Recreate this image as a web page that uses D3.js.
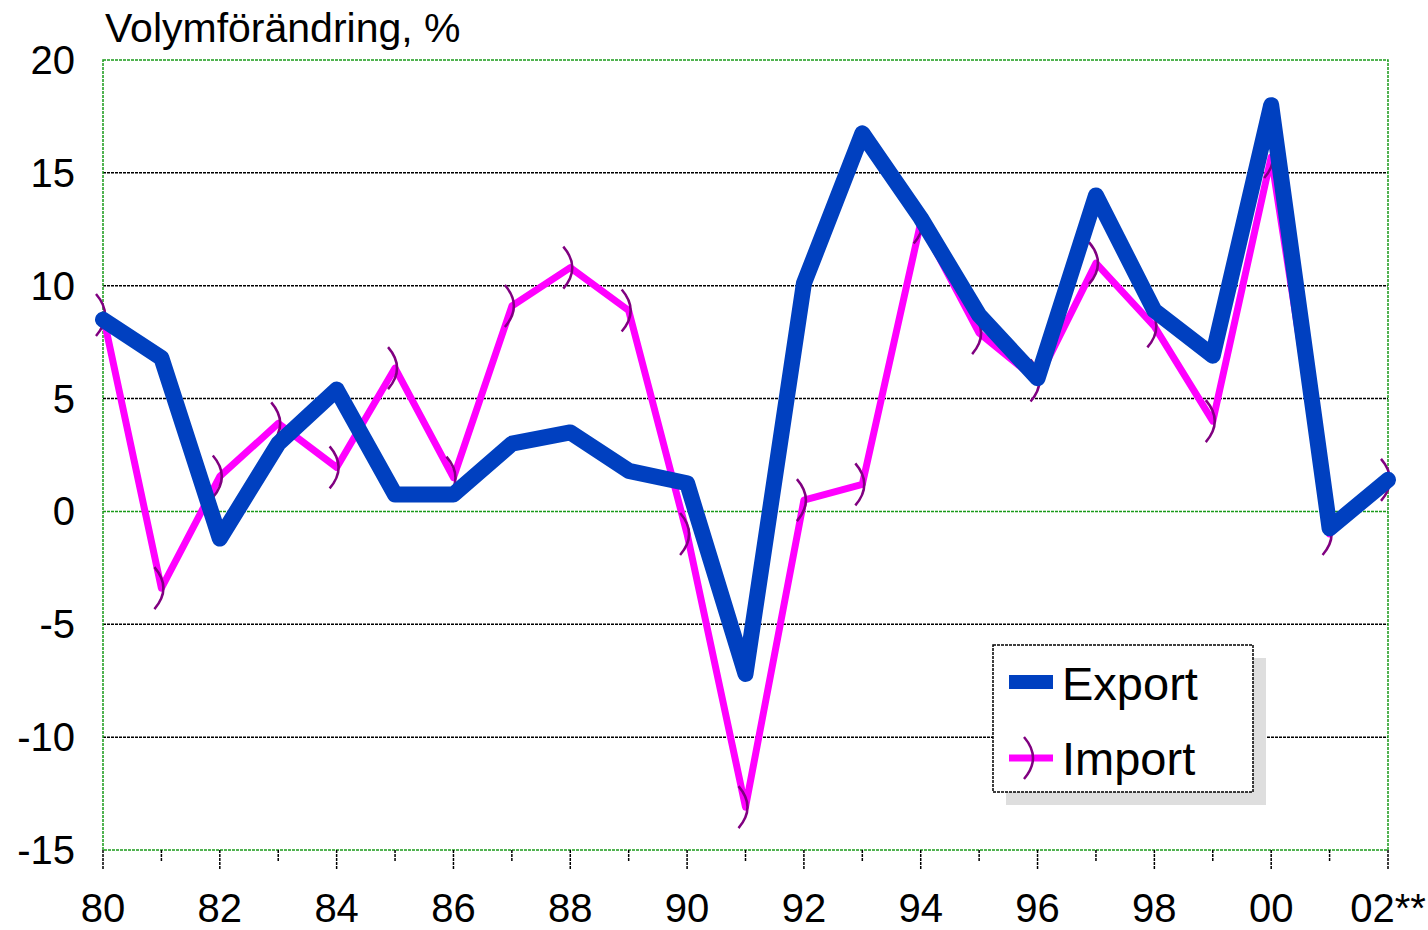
<!DOCTYPE html>
<html>
<head>
<meta charset="utf-8">
<script src="https://cdn.jsdelivr.net/npm/d3@7"></script>
<style>
  body { margin: 0; background: #fff; }
  text { font-family: "Liberation Sans", Arial, sans-serif; fill: #000; }
</style>
</head>
<body>
<div id="chart"></div>
<script>
// years 1980..2002
var years = d3.range(1980, 2003);
var exportVals = [8.5, 6.8, -1.2, 3.0, 5.4, 0.75, 0.75, 3.0, 3.5, 1.8, 1.25, -7.2, 10.1, 16.75, 13.0, 8.7, 5.9, 14.0, 8.9, 6.9, 18.0, -0.75, 1.4];
var importVals = [8.7, -3.4, 1.55, 3.9, 1.95, 6.35, 1.5, 9.1, 10.8, 8.9, -1.0, -13.1, 0.5, 1.2, 12.8, 7.9, 5.8, 11.0, 8.2, 4.0, 15.7, -1.0, 1.4];
var yTicks = [20, 15, 10, 5, 0, -5, -10, -15];
var xLabels = ['80', '82', '84', '86', '88', '90', '92', '94', '96', '98', '00', '02**'];

var W = 1428, H = 930;
var margin = { top: 60, left: 103, right: 40, bottom: 80 };
var width = 1388 - margin.left, height = 850 - margin.top;

var svg = d3.select('#chart').append('svg')
    .attr('width', W).attr('height', H);
var g = svg.append('g')
    .attr('transform', 'translate(' + margin.left + ',' + margin.top + ')');

var x = d3.scaleLinear().domain([1980, 2002]).range([0, width]);
var y = d3.scaleLinear().domain([-15, 20]).range([height, 0]);

// gridlines
g.selectAll('.grid')
    .data(yTicks.filter(d => d !== 0 && d !== 20 && d !== -15))
    .enter().append('line')
    .attr('x1', 0).attr('x2', width)
    .attr('y1', d => y(d)).attr('y2', d => y(d))
    .attr('stroke', '#000').attr('stroke-width', 1.5)
    .attr('stroke-dasharray', '3,1');

// zero line
g.append('line')
    .attr('x1', 0).attr('x2', width)
    .attr('y1', y(0)).attr('y2', y(0))
    .attr('stroke', '#1a9a1a').attr('stroke-width', 1.5)
    .attr('stroke-dasharray', '3,1');

// plot border
g.append('rect')
    .attr('x', 0).attr('y', 0).attr('width', width).attr('height', height)
    .attr('fill', 'none').attr('stroke', '#1a9a1a').attr('stroke-width', 1.5)
    .attr('stroke-dasharray', '3,1');

// y tick labels
g.selectAll('.ylab')
    .data(yTicks)
    .enter().append('text')
    .attr('x', -28).attr('y', d => y(d) + 14)
    .attr('text-anchor', 'end')
    .style('font-size', '40px')
    .text(d => d);

// x ticks
g.selectAll('.xtick')
    .data(years)
    .enter().append('line')
    .attr('x1', d => x(d)).attr('x2', d => x(d))
    .attr('y1', height).attr('y2', d => height + ((d % 2 === 0) ? 19 : 11))
    .attr('stroke', '#000').attr('stroke-width', 1.5)
    .attr('stroke-dasharray', '3,1');

g.selectAll('.xlab')
    .data(xLabels)
    .enter().append('text')
    .attr('x', (d, i) => x(1980 + 2 * i))
    .attr('y', height + 72)
    .attr('text-anchor', 'middle')
    .style('font-size', '40px')
    .text(d => d);

// title
svg.append('text')
    .attr('x', 105).attr('y', 42)
    .style('font-size', '41px')
    .text('Volymförändring, %');

var line = d3.line()
    .x((d, i) => x(years[i]))
    .y(d => y(d));

// import line
g.append('path')
    .datum(importVals)
    .attr('d', line)
    .attr('fill', 'none')
    .attr('stroke', '#ff00ff')
    .attr('stroke-width', 7)
    .attr('stroke-linejoin', 'round');

// import markers ")"
function arcPath(cx, cy) {
    return 'M' + (cx - 7) + ',' + (cy - 21) + ' Q' + (cx + 11) + ',' + cy + ' ' + (cx - 7) + ',' + (cy + 21);
}
g.selectAll('.mk')
    .data(importVals)
    .enter().append('path')
    .attr('d', (d, i) => arcPath(x(years[i]), y(d)))
    .attr('fill', 'none')
    .attr('stroke', '#800080')
    .attr('stroke-width', 2.5);

// export line
g.append('path')
    .datum(exportVals)
    .attr('d', line)
    .attr('fill', 'none')
    .attr('stroke', '#0040c0')
    .attr('stroke-width', 16)
    .attr('stroke-linejoin', 'round')
    .attr('stroke-linecap', 'round');

// legend
var lg = svg.append('g').attr('transform', 'translate(993,645)');
lg.append('rect')
    .attr('x', 13).attr('y', 13).attr('width', 260).attr('height', 147)
    .attr('fill', '#dedede');
lg.append('rect')
    .attr('x', 0).attr('y', 0).attr('width', 260).attr('height', 147)
    .attr('fill', '#fff').attr('stroke', '#000').attr('stroke-width', 1.5)
    .attr('stroke-dasharray', '3,1');
lg.append('line')
    .attr('x1', 16).attr('x2', 60).attr('y1', 37).attr('y2', 37)
    .attr('stroke', '#0040c0').attr('stroke-width', 14);
lg.append('text')
    .attr('x', 69).attr('y', 55)
    .style('font-size', '47px')
    .text('Export');
lg.append('line')
    .attr('x1', 16).attr('x2', 60).attr('y1', 113).attr('y2', 113)
    .attr('stroke', '#ff00ff').attr('stroke-width', 7);
lg.append('path')
    .attr('d', arcPath(38, 113))
    .attr('fill', 'none')
    .attr('stroke', '#800080')
    .attr('stroke-width', 2.5);
lg.append('text')
    .attr('x', 69).attr('y', 130)
    .style('font-size', '47px')
    .text('Import');
</script>
</body>
</html>
